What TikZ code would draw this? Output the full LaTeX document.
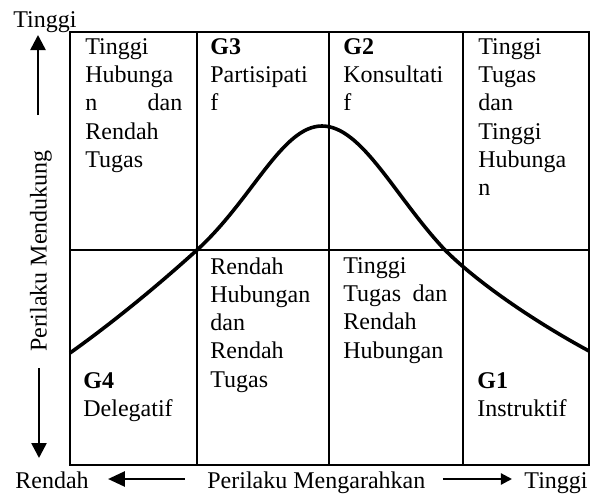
\documentclass[tikz,border=0pt]{standalone}
\usepackage{fontspec}
\setmainfont{Liberation Serif}
\usepackage{tikz}
\usetikzlibrary{arrows.meta}

\begin{document}
\begin{tikzpicture}[x=0.5pt,y=-0.5pt,>={Triangle[length=7.5pt,width=7.5pt]},
  cell/.style={anchor=north west,inner sep=0pt,align=left,font=\fontsize{12}{14.15}\selectfont},
  axislabel/.style={inner sep=0pt,font=\fontsize{12}{14.15}\selectfont}]
  \useasboundingbox (0,0) rectangle (591,494);
  % grid of the four styles
  \draw[line width=1.1pt] (70,32) rectangle (589,465);
  \draw[line width=1.1pt] (197,32) -- (197,465);
  \draw[line width=1.1pt] (329,32) -- (329,465);
  \draw[line width=1.1pt] (463,32) -- (463,465);
  \draw[line width=1.1pt] (70,250) -- (589,250);
  % bell curve
  \draw[line width=1.8pt, line join=round] (70,353) .. controls (112,323) and (155,288) .. (197,250)
    .. controls (252,200) and (282,126) .. (322,126)
    .. controls (362,126) and (395,197) .. (445,250)
    .. controls (480,285) and (539,324) .. (589,351);
  % cells, top row
  \node[cell,text width=48.5pt] (c11) at (85,38) {Tinggi\\Hubunga\\n\hfill dan\\Rendah\\Tugas};
  \node[cell] (c12) at (210,38) {\textbf{G3}\\Partisipati\\f};
  \node[cell] (c13) at (343,38) {\textbf{G2}\\Konsultati\\f};
  \node[cell] (c14) at (478,38) {Tinggi\\Tugas\\dan\\Tinggi\\Hubunga\\n};
  % cells, bottom row
  \node[cell] (c21) at (83,372) {\textbf{G4}\\Delegatif};
  \node[cell] (c22) at (210,257) {Rendah\\Hubungan\\dan\\Rendah\\Tugas};
  \node[cell,text width=52pt] (c23) at (343,257) {Tinggi\\Tugas\hfill dan\\Rendah\\Hubungan};
  \node[cell] (c24) at (477,372) {\textbf{G1}\\Instruktif};
  % axes
  \node[axislabel,anchor=north west] (ytop) at (13,11) {Tinggi};
  \node[axislabel,rotate=90] (ylabel) at (41,251) {Perilaku Mendukung};
  \node[axislabel,anchor=base west] (xlow) at (15,488) {Rendah};
  \node[axislabel,anchor=base west] (xlabel) at (207,488) {Perilaku Mengarahkan};
  \node[axislabel,anchor=base east] (xhigh) at (588,488) {Tinggi};
  \coordinate (upS) at (38,115);
  \coordinate (upE) at (38,35);
  \coordinate (dnS) at (39,368);
  \coordinate (dnE) at (39,458);
  \coordinate (ltS) at (185,479);
  \coordinate (ltE) at (108,479);
  \coordinate (rtS) at (443,479);
  \coordinate (rtE) at (512,479);
  \draw[->, line width=1.3pt] (upS) -- (upE);
  \draw[->, line width=1.3pt] (dnS) -- (dnE);
  \draw[-{Triangle[length=8.5pt,width=7.5pt]}, line width=1.4pt] (ltS) -- (ltE);
  \draw[-{Triangle[length=5.5pt,width=5.5pt]}, line width=1.1pt] (rtS) -- (rtE);
\end{tikzpicture}
\end{document}
